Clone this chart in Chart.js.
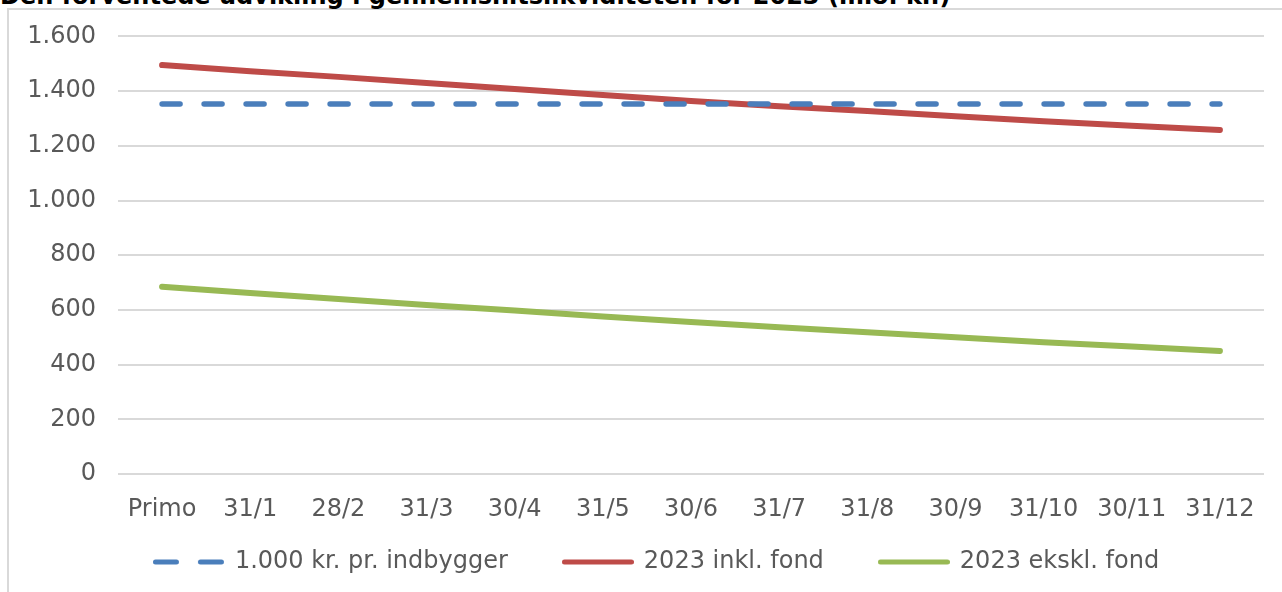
<!DOCTYPE html>
<html>
<head>
<meta charset="utf-8">
<script src="https://cdn.jsdelivr.net/npm/chart.js@4.4.0/dist/chart.umd.min.js"></script>
<style>
  html, body { margin: 0; padding: 0; background: #ffffff; overflow: hidden; }
  body { width: 1282px; height: 592px; position: relative; }
  #frame { position: absolute; left: 7px; top: 8px; width: 1500px; height: 800px;
           border: 2px solid #d9d9d9; box-sizing: border-box; }
  #title { position: absolute; left: 0px; top: -16px; white-space: nowrap;
           font-family: "DejaVu Sans", sans-serif; font-weight: bold; font-size: 24px;
           line-height: 24px; color: #000000; }
  #wrap { position: absolute; left: 0; top: 0; width: 1282px; height: 592px; }
</style>
</head>
<body>
<div id="frame"></div>
<div id="title">Den forventede udvikling i gennemsnitslikviditeten for 2023 (mio. kr.)</div>
<div id="wrap"><canvas id="c" width="1282" height="592"></canvas></div>
<script>
const categories = ['Primo', '31/1', '28/2', '31/3', '30/4', '31/5', '30/6', '31/7', '31/8', '30/9', '31/10', '30/11', '31/12'];
const seriesNames = ['1.000 kr. pr. indbygger', '2023 inkl. fond', '2023 ekskl. fond'];
const perInhabitant = [1353, 1353, 1353, 1353, 1353, 1353, 1353, 1353, 1353, 1353, 1353, 1353, 1353];
const inclFund = [1495, 1473, 1452, 1430, 1408, 1386, 1364, 1345, 1327, 1308, 1290, 1273, 1258];
const exclFund = [685, 662, 640, 618, 598, 576, 556, 537, 518, 500, 482, 466, 450];
const yTicks = [0, 200, 400, 600, 800, 1000, 1200, 1400, 1600];

function fmt(v) {
  return String(v).replace(/\B(?=(\d{3})+(?!\d))/g, '.');
}

// legend sample images (line swatches)
function swatch(color, dashed) {
  const c = document.createElement('canvas');
  c.width = 72; c.height = 8;
  const g = c.getContext('2d');
  g.strokeStyle = color; g.lineWidth = 5; g.lineCap = 'round';
  g.beginPath();
  if (dashed) {
    g.moveTo(2.5, 4); g.lineTo(23.5, 4);
    g.moveTo(47.5, 4); g.lineTo(68.5, 4);
  } else {
    g.moveTo(2.5, 4); g.lineTo(69.5, 4);
  }
  g.stroke();
  return c;
}

const FONT = { family: '"DejaVu Sans", sans-serif', size: 24 };
const TXT = '#595959';
const BLUE = '#4a7ebb', RED = '#be4b48', GREEN = '#98b954';

const legendShift = {
  id: 'legendShift',
  afterLayout(chart) {
    const l = chart.legend;
    if (!l) return;
    l.left += 21; l.right += 21;
    l.top -= 27;
  }
};

new Chart(document.getElementById('c'), {
  type: 'line',
  data: {
    labels: categories,
    datasets: [
      { label: seriesNames[0], data: perInhabitant, borderColor: BLUE, backgroundColor: BLUE,
        borderWidth: 5.5, borderDash: [18, 24], borderCapStyle: 'round', pointRadius: 0, tension: 0,
        pointStyle: swatch(BLUE, true) },
      { label: seriesNames[1], data: inclFund, borderColor: RED, backgroundColor: RED,
        borderWidth: 6, borderCapStyle: 'round', pointRadius: 0, tension: 0,
        pointStyle: swatch(RED, false) },
      { label: seriesNames[2], data: exclFund, borderColor: GREEN, backgroundColor: GREEN,
        borderWidth: 6, borderCapStyle: 'round', pointRadius: 0, tension: 0,
        pointStyle: swatch(GREEN, false) }
    ]
  },
  options: {
    responsive: false,
    animation: false,
    events: [],
    layout: { padding: { left: 8, right: 18, top: 36, bottom: 7 } },
    scales: {
      x: {
        offset: true,
        grid: { display: false },
        border: { display: false },
        ticks: { font: FONT, color: TXT, padding: 13, maxRotation: 0, autoSkip: false },
        afterFit: (s) => { s.height = 47; }
      },
      y: {
        min: 0, max: 1600,
        afterBuildTicks: (s) => { s.ticks = yTicks.map(v => ({ value: v })); },
        grid: { color: '#d9d9d9', lineWidth: 2, drawTicks: false },
        border: { display: false },
        ticks: { font: FONT, color: TXT, padding: 22, callback: (v) => fmt(v) },
        afterFit: (s) => { s.width = 110; }
      }
    },
    plugins: {
      title: { display: false },
      tooltip: { enabled: false },
      legend: {
        position: 'bottom',
        maxHeight: 64,
        labels: {
          font: FONT, color: TXT, padding: 56,
          usePointStyle: true, pointStyleWidth: 68, boxHeight: 8
        }
      }
    }
  },
  plugins: [legendShift]
});
</script>
</body>
</html>
